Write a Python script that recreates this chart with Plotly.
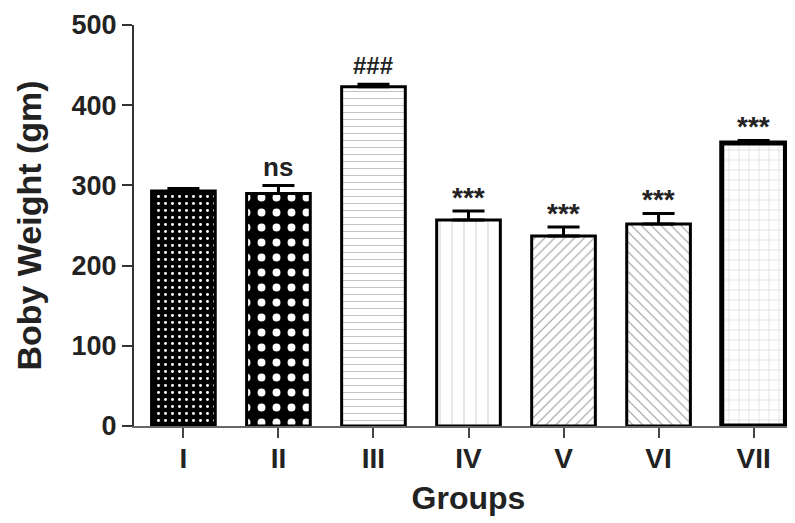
import plotly.graph_objects as go

groups = ["I", "II", "III", "IV", "V", "VI", "VII"]
weights = [293, 290, 423, 257, 237, 252, 353]
errors = [3, 10, 3, 11, 11, 13, 3]
sig_labels = ["", "ns", "###", "***", "***", "***", "***"]

shapes = [".", ".", "-", "|", "/", "\\", "+"]
fg = ["white", "white", "#b8b8b8", "#c8c8c8", "#9a9a9a", "#9a9a9a", "#c0c0c0"]
bg = ["black", "black", "white", "white", "white", "white", "white"]
psize = [7, 15, 7, 12, 7, 7, 10]
solid = [0.14, 0.22, 0.12, 0.07, 0.15, 0.15, 0.08]
lw = [3, 3, 3, 3, 3, 3, 5]

fig = go.Figure()
for i, g in enumerate(groups):
    fig.add_trace(go.Bar(
        x=[g], y=[weights[i]],
        marker=dict(color=bg[i],
                    line=dict(color="black", width=lw[i]),
                    pattern=dict(shape=shapes[i], fgcolor=fg[i], bgcolor=bg[i],
                                 size=psize[i], solidity=solid[i], fillmode="replace")),
        error_y=dict(type="data", array=[errors[i]], arrayminus=[0], symmetric=False,
                     color="black", thickness=3, width=16),
        showlegend=False,
    ))

sig_size = {"ns": 26, "###": 24, "***": 28}
sig_shift = {"ns": 1, "###": 3, "***": -4}
for i, g in enumerate(groups):
    lab = sig_labels[i]
    if lab:
        fig.add_annotation(x=g, y=weights[i] + errors[i], text="<b>" + lab + "</b>",
                           showarrow=False, yanchor="bottom", yshift=sig_shift[lab],
                           font=dict(family="Liberation Sans", size=sig_size[lab], color="#222"))

fig.update_layout(
    width=795, height=523,
    margin=dict(l=126, r=0, t=17, b=105),
    plot_bgcolor="white", paper_bgcolor="white",
    bargap=0.33,
    font=dict(family="Liberation Sans", color="#222"),
    xaxis=dict(
        range=[-0.52, 6.52], showline=True, linecolor="#666", linewidth=2,
        ticks="outside", ticklen=10, tickwidth=2, tickcolor="#444",
        ticklabelstandoff=-4, automargin=False,
        tickfont=dict(size=28, family="Liberation Sans", weight="bold", color="#222"),
        title=dict(text="<b>Groups</b>", font=dict(size=32, family="Liberation Sans", color="#222"),
                   standoff=14),
        showgrid=False, zeroline=False,
    ),
    yaxis=dict(
        range=[0, 500], showline=True, linecolor="#333", linewidth=2,
        ticks="outside", ticklen=10, tickwidth=2, tickcolor="#333",
        automargin=False,
        tickvals=[0, 100, 200, 300, 400, 500],
        tickfont=dict(size=27, family="Liberation Sans", weight="bold", color="#222"),
        title=dict(text="<b>Boby Weight (gm)</b>", font=dict(size=34, family="Liberation Sans", color="#222"),
                   standoff=20),
        showgrid=False, zeroline=False,
    ),
)

fig.write_html("out.html")
